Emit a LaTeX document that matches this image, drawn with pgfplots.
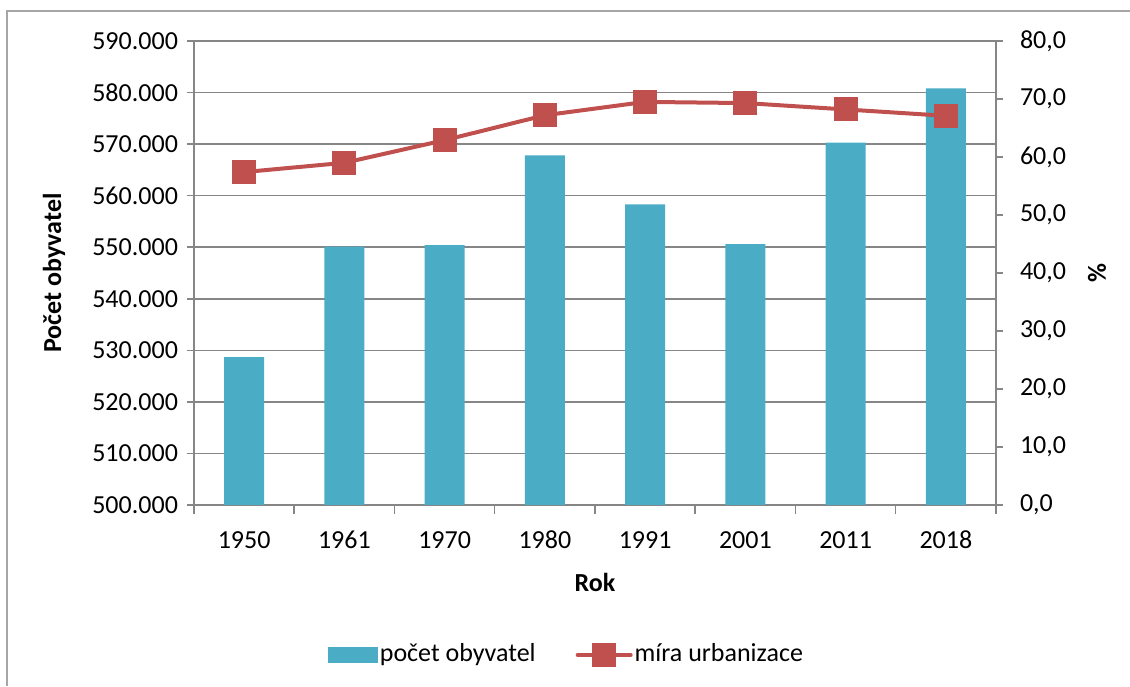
\documentclass[border=0pt]{standalone}
\usepackage{fontspec}
\setmainfont{Carlito}
\usepackage{pgfplots}
\pgfplotsset{compat=1.18}
\definecolor{barc}{HTML}{4BACC6}
\definecolor{linec}{HTML}{C0504D}
\definecolor{gridc}{HTML}{868686}
\definecolor{framec}{HTML}{A6A6A6}
\begin{document}
\fontsize{13pt}{15.6pt}\selectfont
\begin{tikzpicture}
\useasboundingbox (0,0) rectangle (565pt,343pt);
\draw[framec, line width=0.75pt] (3.5pt,0) -- (3.5pt,337.5pt) -- (565pt,337.5pt);
\begin{axis}[
  at={(97pt,90.5pt)}, anchor=south west,
  scale only axis, width=401pt, height=232pt,
  xmin=-0.5, xmax=7.5, ymin=500000, ymax=590000,
  axis x line*=bottom, axis y line*=left,
  axis line style={gridc, line width=0.75pt, -},
  xtick={0,...,7},
  xticklabels={1950,1961,1970,1980,1991,2001,2011,2018},
  xticklabel style={text height=8.6pt, text depth=0pt, yshift=-5pt},
  minor xtick={-0.5,0.5,...,7.5},
  major x tick style={draw=none},
  minor x tick style={gridc, line width=0.75pt},
  y tick style={gridc, line width=0.75pt},
  tick align=outside,
  major tick length=3.5pt, minor tick length=4.5pt,
  ytick={500000,510000,...,590000},
  yticklabels={500.000,510.000,520.000,530.000,540.000,550.000,560.000,570.000,580.000,590.000},
  scaled y ticks=false,
  ymajorgrids, grid style={gridc, line width=0.75pt},
  ylabel={\textbf{Počet obyvatel}},
  ylabel style={at={(axis description cs:-0.1746,0.5)}, anchor=center},
  xlabel={\textbf{Rok}},
  xlabel style={at={(axis description cs:0.5,-0.166)}, anchor=center},
]
\addplot[ybar, bar width=20pt, fill=barc, draw=none] coordinates {
(0,528700) (1,550100) (2,550400) (3,567800) (4,558300) (5,550600) (6,570300) (7,580800)};
\end{axis}
\begin{axis}[
  at={(97pt,90.5pt)}, anchor=south west,
  scale only axis, width=401pt, height=232pt,
  xmin=-0.5, xmax=7.5, ymin=0, ymax=80,
  axis x line=none, axis y line*=right,
  axis line style={gridc, line width=0.75pt, -},
  y tick style={gridc, line width=0.75pt},
  tick align=outside, major tick length=3.5pt,
  ytick={0,10,...,80},
  yticklabels={{0,0},{10,0},{20,0},{30,0},{40,0},{50,0},{60,0},{70,0},{80,0}},
  yticklabel style={xshift=4pt},
  ylabel={\textbf{\%}},
  ylabel style={at={(axis description cs:1.1259,0.5)}, anchor=center},
  legend style={at={(0.4645,-0.323)}, anchor=center, draw=none, fill=none,
    legend columns=2, /tikz/every even column/.append style={column sep=19pt},
    nodes={inner sep=1pt}},
  legend cell align=left,
]
\addlegendimage{legend image code/.code={\fill[barc] (0pt,-3.75pt) rectangle (24.5pt,3.75pt);}}
\addlegendentry{počet obyvatel}
\addplot[linec, line width=2pt, mark=square*, mark size=5pt, mark options={solid, fill=linec},
  legend image code/.code={\draw[linec, line width=2pt, line cap=round] (0pt,0pt) -- (26.5pt,0pt);
  \fill[linec] (8.25pt,-5pt) rectangle (18.25pt,5pt);}] coordinates {
(0,57.4) (1,59.0) (2,62.9) (3,67.2) (4,69.5) (5,69.3) (6,68.2) (7,67.1)};
\addlegendentry{míra urbanizace}
\end{axis}
\end{tikzpicture}
\end{document}
